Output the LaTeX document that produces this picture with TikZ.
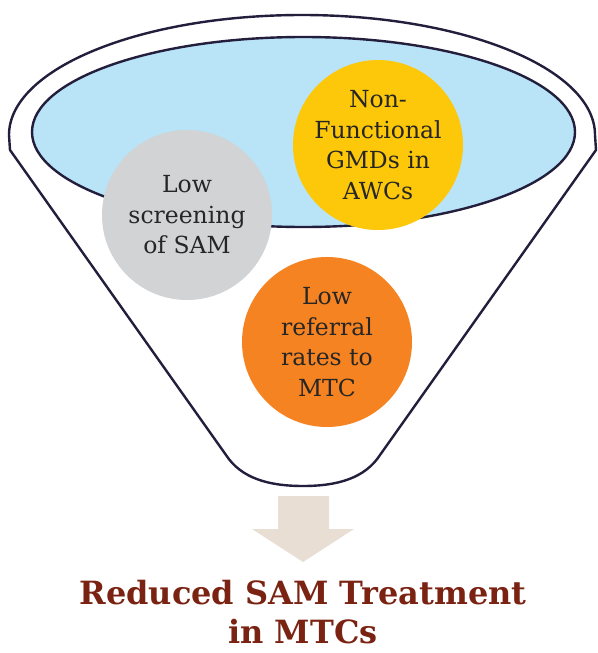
\documentclass[tikz,border=0pt]{standalone}
\usepackage{fontspec}
\setmainfont{DejaVu Serif}
\usetikzlibrary{positioning}
\definecolor{rimline}{HTML}{221E3C}
\definecolor{basin}{HTML}{B9E3F7}
\definecolor{greyball}{HTML}{D1D3D4}
\definecolor{goldball}{HTML}{FDC80A}
\definecolor{orangeball}{HTML}{F58322}
\definecolor{arrowfill}{HTML}{E8DED4}
\definecolor{titlered}{HTML}{7A2312}
\tikzset{rim/.style={draw=rimline,line width=2.4pt},
  ball/.style={circle,minimum size=170pt,inner sep=0pt,align=center,text=black!85,font=\fontsize{23.5}{30.5}\selectfont},
  result/.style={align=center,inner sep=0pt,text=titlered,font=\bfseries\fontsize{32}{39}\selectfont}}

\begin{document}
\begin{tikzpicture}[x=1pt,y=-1pt]
\useasboundingbox (0,0) rectangle (597,653);
% funnel
\draw[rim,fill=white] (10,150)--(9,135) arc[start angle=180,end angle=0,x radius=293pt,y radius=120pt]--(596,150)--(380,455)
  ..controls (365,478) and (338,486)..(303,486)..controls (268,486) and (241,478)..(226,455)--cycle;
\draw[rim,fill=basin] (303.5,132) ellipse[x radius=271.5pt,y radius=95pt];
% causes
\node[ball,fill=greyball] (screen) at (187,215){Low\\screening\\of SAM};
\node[ball,fill=goldball] (gmd) at (378,145){Non-\\Functional\\GMDs in\\AWCs};
\node[ball,fill=orangeball] (refer) at (327,342){Low\\referral\\rates to\\MTC};
% outcome
\fill[arrowfill] (278,496)--(329,496)--(329,529)--(354,529)--(303,562)--(252,529)--(278,529)--cycle;
\node[result] (outcome) at (303,612){Reduced SAM Treatment\\in MTCs};
\end{tikzpicture}
\end{document}
